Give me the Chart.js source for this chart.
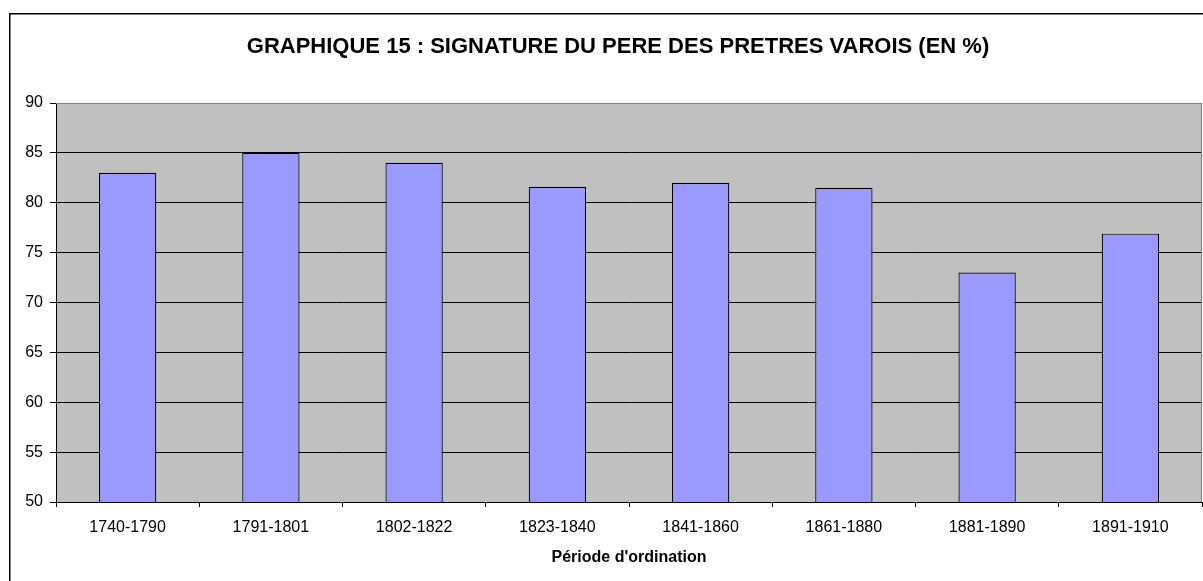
<!DOCTYPE html>
<html>
<head>
<meta charset="utf-8">
<script src="https://cdn.jsdelivr.net/npm/chart.js@4/dist/chart.umd.min.js"></script>
<style>
  html, body { margin: 0; padding: 0; background: #fff; overflow: hidden; }
  canvas { display: block; }
</style>
</head>
<body>
<canvas id="chart" width="1203" height="581"></canvas>
<script>
// Données
const periods = ['1740-1790', '1791-1801', '1802-1822', '1823-1840', '1841-1860', '1861-1880', '1881-1890', '1891-1910'];
const signaturePct = [83, 85, 84, 81.6, 82, 81.5, 73, 76.9];
const yMin = 50;
const yMax = 90;
const yStep = 5;

const FONT = '"Liberation Sans", Arial, sans-serif';

// fond gris de la zone de tracé + cadre extérieur
const excelLook = {
    id: 'excelLook',
    afterLayout(chart) {
        // le titre est centré sur le cadre, un peu à droite du centre du canvas
        if (chart.titleBlock) {
            chart.titleBlock.left += 17;
            chart.titleBlock.right += 17;
        }
    },
    beforeDraw(chart) {
        const { ctx, chartArea: a } = chart;
        ctx.save();
        ctx.fillStyle = '#fff';
        ctx.fillRect(0, 0, chart.width, chart.height);
        ctx.strokeStyle = '#000';
        ctx.lineWidth = 1.5;
        ctx.beginPath();
        ctx.moveTo(9.75, chart.height + 2);
        ctx.lineTo(9.75, 13.75);
        ctx.lineTo(chart.width + 2, 13.75);
        ctx.stroke();
        ctx.fillStyle = '#C0C0C0';
        ctx.fillRect(a.left, a.top, a.right - a.left, a.bottom - a.top);
        ctx.restore();
    },
    afterDatasetsDraw(chart) {
        const { ctx, chartArea: a } = chart;
        ctx.save();
        ctx.strokeStyle = '#808080';
        ctx.lineWidth = 1;
        ctx.beginPath();
        ctx.moveTo(a.left, a.top + 0.5);
        ctx.lineTo(a.right - 0.5, a.top + 0.5);
        ctx.lineTo(a.right - 0.5, a.bottom);
        ctx.stroke();
        ctx.restore();
    }
};

new Chart(document.getElementById('chart'), {
    type: 'bar',
    data: {
        labels: periods,
        datasets: [{
            data: signaturePct,
            backgroundColor: '#9999FF',
            borderColor: '#000',
            borderWidth: 1.2,
            categoryPercentage: 1,
            barPercentage: 0.4
        }]
    },
    options: {
        responsive: false,
        devicePixelRatio: 1,
        animation: false,
        layout: { padding: { left: 0, right: 1, top: 0, bottom: 0 } },
        plugins: {
            legend: { display: false },
            tooltip: { enabled: false },
            title: {
                display: true,
                text: 'GRAPHIQUE 15 : SIGNATURE DU PERE DES PRETRES VAROIS (EN %)',
                color: '#000',
                font: { family: FONT, size: 22, weight: 'bold', lineHeight: 1.2 },
                padding: { top: 34, bottom: 42.6 }
            }
        },
        scales: {
            x: {
                grid: { drawOnChartArea: false, tickLength: 5, tickColor: '#000', offset: true },
                border: { color: '#000', width: 1 },
                ticks: { color: '#000', font: { family: FONT, size: 16 }, padding: 11, maxRotation: 0 },
                title: {
                    display: true,
                    text: "Période d'ordination",
                    color: '#000',
                    font: { family: FONT, size: 16, weight: 'bold', lineHeight: 1.2 },
                    padding: { top: 0, bottom: 14 }
                },
                afterFit(scale) { scale.height = 79; }
            },
            y: {
                min: yMin,
                max: yMax,
                grid: {
                    color: c => (c.tick && c.tick.value === yMax) ? '#808080' : '#000',
                    tickColor: '#000',
                    tickLength: 6,
                    lineWidth: 1
                },
                border: { color: '#000', width: 1 },
                ticks: { stepSize: yStep, color: '#000', font: { family: FONT, size: 16 }, padding: 7 },
                afterFit(scale) { scale.width = 56; }
            }
        }
    },
    plugins: [excelLook]
});
</script>
</body>
</html>
